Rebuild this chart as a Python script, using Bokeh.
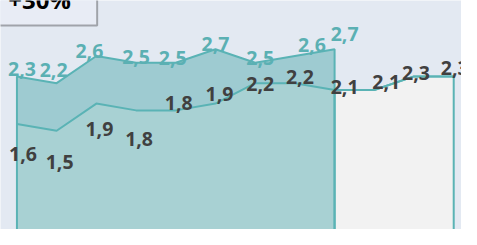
from bokeh.plotting import figure
from bokeh.models import ColumnDataSource, Range1d, BoxAnnotation, Label
from bokeh.core.properties import value
from bokeh.embed import file_html
from bokeh.resources import INLINE

# ---- data ----
periods = list(range(12))
upper_vals = [2.3, 2.2, 2.6, 2.5, 2.5, 2.7, 2.5, 2.6, 2.7]
lower_vals = [1.6, 1.5, 1.9, 1.8, 1.8, 1.9, 2.2, 2.2, 2.1, 2.1, 2.3, 2.3]
forecast_start = 8
badge_text = "+30%"

# label nudges in screen pixels (dx right, dy down)
upper_dx = [5, -3, -7, 0, -3, 0, 5, 17, 10]
upper_dy = [-7, -13, -5, -6, -5, -5, -5, -11, -15]
lower_dx = [6, 3, 3, 3, 3, 4, 5, 5, 10, 12, 2, 1]
lower_dy = [30, 31, 25, 29, -7, -10, 1, -6, -3, -8, -3, -8]

def fmt(v):
    return f"{v:.1f}".replace(".", ",")

BG = "#e3e9f2"
UP_FILL = "#9ecbd1"
LO_FILL = "#a8d1d3"
GRAY = "#f2f2f2"
LINE = "#5ab3b5"
UP_TXT = "#5bb0b3"
LO_TXT = "#404040"

p = figure(width=461, height=229, output_backend="svg", toolbar_location=None,
           x_range=Range1d(-0.414, 11.196), y_range=Range1d(0.047, 3.417),
           min_border=0, min_border_left=0, min_border_right=0,
           min_border_top=0, min_border_bottom=0)
p.axis.visible = False
p.grid.visible = False
p.outline_line_color = None
p.background_fill_color = BG
p.border_fill_color = BG

n_up = len(upper_vals)
xu = periods[:n_up]
up_px = [xu[0]] + xu + [xu[-1]]
up_py = [0] + upper_vals + [0]

xf = periods[forecast_start:]
lf = lower_vals[forecast_start:]
gr_px = [xf[0]] + xf + [xf[-1]]
gr_py = [0] + lf + [0]

# fills
p.patch(up_px, up_py, fill_color=UP_FILL, line_color=None)
p.varea(x=xu, y1=[0] * n_up, y2=lower_vals[:n_up], fill_color=LO_FILL)
p.patch(gr_px, gr_py, fill_color=GRAY, line_color=None)

# outlines
p.patch(up_px, up_py, fill_color=None, line_color=LINE, line_width=2)
p.patch(gr_px, gr_py, fill_color=None, line_color=LINE, line_width=2)
p.line(periods, lower_vals, line_color=LINE, line_width=2)

# labels
src_up = ColumnDataSource(dict(x=xu, y=upper_vals, t=[fmt(v) for v in upper_vals],
                               dx=upper_dx, dy=upper_dy))
src_lo = ColumnDataSource(dict(x=periods, y=lower_vals, t=[fmt(v) for v in lower_vals],
                               dx=lower_dx, dy=lower_dy))
p.text(x="x", y="y", text="t", x_offset="dx", y_offset="dy", source=src_up,
       text_font=value("Open Sans"), text_font_style="bold", text_font_size="19.5px",
       text_color=UP_TXT, text_align="center", text_baseline="alphabetic")
p.text(x="x", y="y", text="t", x_offset="dx", y_offset="dy", source=src_lo,
       text_font=value("Open Sans"), text_font_style="bold", text_font_size="19.5px",
       text_color=LO_TXT, text_align="center", text_baseline="alphabetic")

# badge box
p.add_layout(BoxAnnotation(left=-1.0, right=2.02, bottom=3.05, top=4.0,
                           fill_color="#e8ecf5", fill_alpha=1.0,
                           line_color="black", line_width=2))
p.add_layout(Label(x=-0.22, y=3.43, text=badge_text, text_font="Open Sans",
                   text_font_style="bold", text_font_size="24px", text_color="black",
                   text_align="left", text_baseline="alphabetic"))

open("out.html", "w").write(file_html(p, INLINE))
